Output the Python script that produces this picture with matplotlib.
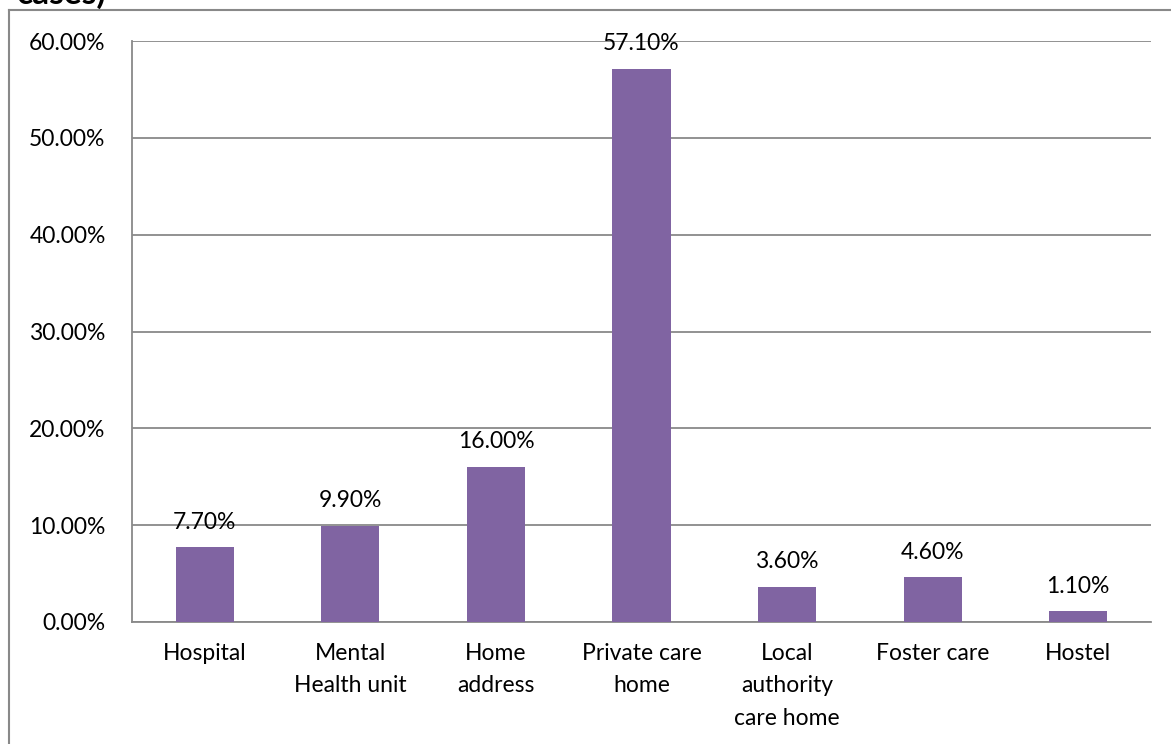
import matplotlib
matplotlib.use("Agg")
import matplotlib.pyplot as plt
from matplotlib.lines import Line2D

categories = ["Hospital", "Mental\nHealth unit", "Home\naddress", "Private care\nhome",
              "Local\nauthority\ncare home", "Foster care", "Hostel"]
values = [7.7, 9.9, 16.0, 57.1, 3.6, 4.6, 1.1]
y_ticks = [0, 10, 20, 30, 40, 50, 60]

W, H = 1171, 744
plt.rcParams['font.family'] = ['Lato', 'DejaVu Sans']
FS = 16.5

fig = plt.figure(figsize=(W / 100, H / 100), dpi=100)
ax = fig.add_axes([132 / W, 1 - 622 / H, (1151 - 132) / W, (622 - 41) / H])

grey = "#898989"
x = list(range(len(categories)))
ax.bar(x, values, width=0.4, color="#8064A2", zorder=3)
for xi, v in zip(x, values):
    ax.annotate(f"{v:.2f}%", (xi, v), xytext=(0, 13.5), textcoords="offset points",
                ha="center", va="baseline", fontsize=FS, color="#000000", zorder=4)

ax.set_xlim(-0.5, len(categories) - 0.5)
ax.set_ylim(0, 60)
ax.set_yticks(y_ticks)
ax.set_yticklabels([f"{t:.2f}%" for t in y_ticks], fontsize=FS)
ax.set_xticks(x)
ax.set_xticklabels(categories, fontsize=FS, linespacing=1.68)
ax.tick_params(axis="x", length=0, pad=15)
ax.tick_params(axis="y", length=0, pad=19)
ax.yaxis.grid(True, color=grey, linewidth=1.3, zorder=0)
for side in ["top", "right"]:
    ax.spines[side].set_visible(False)
for side in ["left", "bottom"]:
    ax.spines[side].set_color(grey)
    ax.spines[side].set_linewidth(1.3)

# outer chart frame
fig.add_artist(Line2D([9 / W, 9 / W], [-0.01, 1 - 10 / H], transform=fig.transFigure,
                      color=grey, linewidth=1.5))
fig.add_artist(Line2D([9 / W, 1.01], [1 - 10 / H, 1 - 10 / H], transform=fig.transFigure,
                      color=grey, linewidth=1.5))

fig.text(107 / W, 1 - 4 / H, "cases)", fontsize=24, fontweight="bold", ha="right", va="baseline")

fig.savefig("out.png", dpi=100, facecolor="white")
